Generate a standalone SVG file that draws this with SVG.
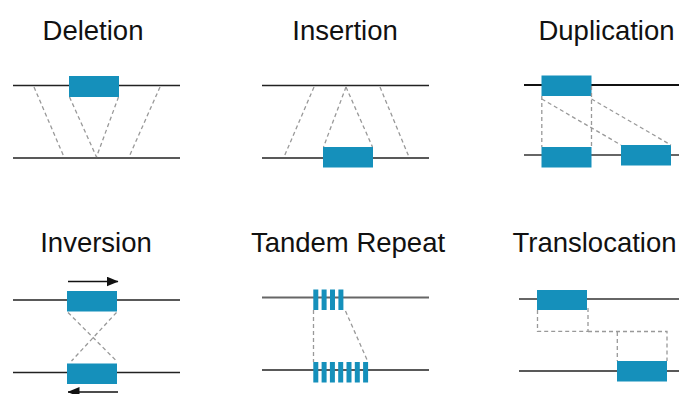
<svg xmlns="http://www.w3.org/2000/svg" width="679" height="394" viewBox="0 0 679 394">
  <style>
    .title { font-family: "Liberation Sans", Arial, Helvetica, sans-serif; font-size: 27.5px; fill: #111; text-anchor: middle; }
    .chrom { stroke: #222; stroke-width: 1.4; fill: none; }
    .chrom-thick { stroke: #111; stroke-width: 2; fill: none; }
    .chrom-grey { stroke: #666; stroke-width: 1.8; fill: none; }
    .seg { fill: #1590bb; }
    .map { stroke: #999; stroke-width: 1.3; stroke-dasharray: 4 3; fill: none; }
    .dir { stroke: #111; stroke-width: 1.6; fill: none; }
  </style>
  <defs>
    <marker id="head" viewBox="0 0 12 10" refX="11.5" refY="5" markerWidth="12" markerHeight="10" markerUnits="userSpaceOnUse" orient="auto">
      <path d="M0,0 L12,5 L0,10 Z" fill="#111"/>
    </marker>
  </defs>

  <rect width="679" height="394" fill="#fff"/>

  <!-- Deletion -->
  <g id="deletion">
    <text class="title" x="93" y="39.5">Deletion</text>
    <line class="chrom" x1="13" y1="85.5" x2="180" y2="85.5"/>
    <line class="chrom" x1="13" y1="158" x2="180" y2="158"/>
    <rect class="seg" x="69" y="76" width="50" height="21"/>
  </g>

  <!-- Insertion -->
  <g id="insertion">
    <text class="title" x="345" y="39.5">Insertion</text>
    <line class="chrom" x1="262" y1="85.5" x2="429" y2="85.5"/>
    <line class="chrom" x1="262" y1="158" x2="429" y2="158"/>
    <rect class="seg" x="323" y="147" width="50" height="20.5"/>
  </g>

  <!-- Duplication -->
  <g id="duplication">
    <text class="title" x="606.5" y="39.5">Duplication</text>
    <line class="chrom-thick" x1="524" y1="85" x2="679" y2="85"/>
    <line class="chrom-grey" x1="524" y1="155" x2="679" y2="155"/>
    <rect class="seg" x="541.5" y="75.5" width="50" height="20.5"/>
    <rect class="seg" x="541.5" y="147" width="50" height="20.5"/>
    <rect class="seg" x="621" y="145" width="50" height="20.5"/>
  </g>

  <!-- Inversion -->
  <g id="inversion">
    <text class="title" x="96" y="252">Inversion</text>
    <line class="chrom" x1="13" y1="300" x2="180" y2="300"/>
    <line class="chrom" x1="13" y1="372.5" x2="180" y2="372.5"/>
    <rect class="seg" x="67" y="291" width="50" height="20.5"/>
    <rect class="seg" x="67" y="363.5" width="50" height="20.5"/>
    <line class="dir" x1="68" y1="281.5" x2="118" y2="281.5" marker-end="url(#head)"/>
    <line class="dir" x1="118" y1="392" x2="68" y2="392" marker-end="url(#head)"/>
  </g>

  <!-- Tandem Repeat -->
  <g id="tandem-repeat">
    <text class="title" x="348" y="252">Tandem Repeat</text>
    <line class="chrom-grey" x1="262" y1="297.5" x2="429" y2="297.5"/>
    <line class="chrom" x1="262" y1="370" x2="429" y2="370"/>
    <g class="seg">
      <rect x="313.3" y="289.5" width="5" height="20.5"/>
      <rect x="321.6" y="289.5" width="5" height="20.5"/>
      <rect x="330" y="289.5" width="5" height="20.5"/>
      <rect x="338.4" y="289.5" width="5" height="20.5"/>
      <rect x="313.3" y="362" width="5" height="20.5"/>
      <rect x="321.6" y="362" width="5" height="20.5"/>
      <rect x="329.9" y="362" width="5" height="20.5"/>
      <rect x="338.2" y="362" width="5" height="20.5"/>
      <rect x="346.5" y="362" width="5" height="20.5"/>
      <rect x="354.8" y="362" width="5" height="20.5"/>
      <rect x="363.1" y="362" width="5" height="20.5"/>
    </g>
  </g>

  <!-- Translocation -->
  <g id="translocation">
    <text class="title" x="594.5" y="252">Translocation</text>
    <line class="chrom-grey" x1="519" y1="299" x2="679" y2="299"/>
    <line class="chrom" x1="519" y1="371" x2="679" y2="371"/>
    <rect class="seg" x="537" y="290" width="50" height="20"/>
    <rect class="seg" x="617" y="361" width="50" height="20.5"/>
  </g>

  <!-- dashed correspondence connectors -->
  <g id="connectors">
    <!-- deletion -->
    <line class="map" x1="34" y1="87" x2="64" y2="157"/>
    <line class="map" x1="69.5" y1="97" x2="96.5" y2="157"/>
    <line class="map" x1="118.5" y1="97" x2="96.5" y2="157"/>
    <line class="map" x1="160" y1="87" x2="129" y2="157"/>
    <!-- insertion -->
    <line class="map" x1="314" y1="87" x2="284" y2="157"/>
    <line class="map" x1="346" y1="87" x2="323.5" y2="147"/>
    <line class="map" x1="346" y1="87" x2="372.5" y2="147"/>
    <line class="map" x1="380" y1="87" x2="409" y2="157"/>
    <!-- duplication -->
    <line class="map" x1="541.8" y1="96" x2="541.8" y2="147"/>
    <line class="map" x1="591.5" y1="86" x2="591.5" y2="147"/>
    <line class="map" x1="541.8" y1="99" x2="621" y2="145"/>
    <line class="map" x1="591.5" y1="99" x2="671" y2="145"/>
    <!-- inversion -->
    <line class="map" x1="68" y1="312.5" x2="116.5" y2="361"/>
    <line class="map" x1="116.5" y1="312.5" x2="71.5" y2="361"/>
    <!-- tandem repeat -->
    <line class="map" x1="313.5" y1="310" x2="313.5" y2="362"/>
    <line class="map" x1="345.5" y1="311" x2="368" y2="362"/>
    <!-- translocation -->
    <path class="map" d="M537.5,310 V331.3 H588 V306"/>
    <path class="map" d="M588,331.5 H667 V361 M617.3,332 V361"/>
  </g>
</svg>
